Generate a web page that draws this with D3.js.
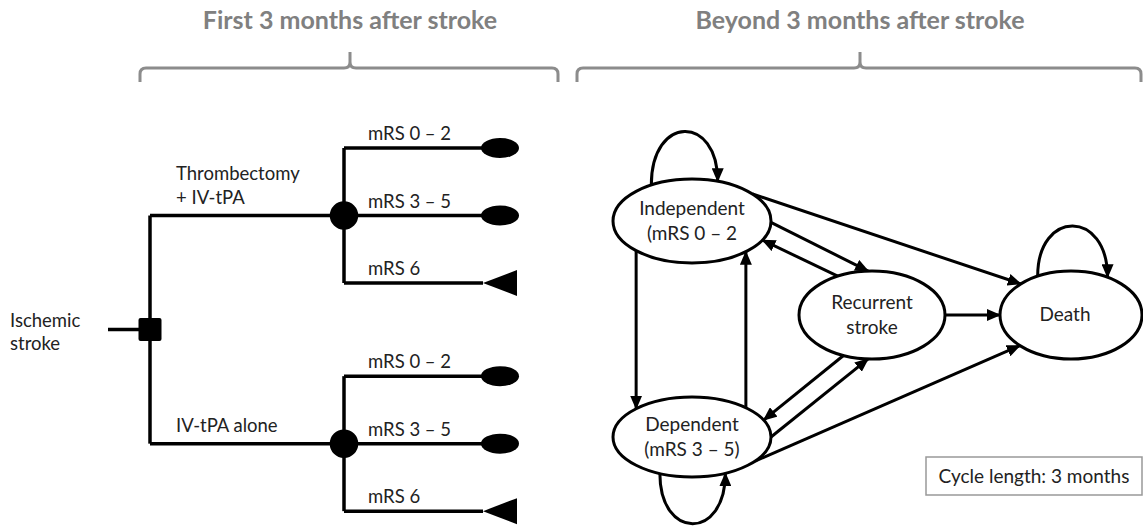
<!DOCTYPE html>
<html>
<head>
<meta charset="utf-8">
<script src="https://cdn.jsdelivr.net/npm/d3@7"></script>
<style>
body { margin: 0; background: #fff; }
text { font-family: Lato, "Open Sans", sans-serif; fill: #222; }
.head { font-size: 25px; font-weight: bold; fill: #808080; }
.lbl { font-size: 18.5px; }
.state { font-size: 19px; }
</style>
</head>
<body>
<svg id="chart" width="1143" height="529"></svg>
<script>
// ---- diagram content ----
var phases = ["First 3 months after stroke", "Beyond 3 months after stroke"];
var rootLabel = ["Ischemic", "stroke"];
var strategies = [["Thrombectomy", "+ IV-tPA"], ["IV-tPA alone"]];
var outcomes = ["mRS 0 – 2", "mRS 3 – 5", "mRS 6"];
var terminals = ["ellipse", "ellipse", "triangle"];
var states = ["Independent", "Dependent", "Recurrent", "Death"];
var stateLabels = [["Independent", "(mRS 0 – 2"], ["Dependent", "(mRS 3 – 5)"], ["Recurrent", "stroke"], ["Death"]];
var transitions = [
  ["Independent", "Death"], ["Independent", "Recurrent"], ["Recurrent", "Independent"],
  ["Recurrent", "Death"], ["Recurrent", "Dependent"], ["Dependent", "Recurrent"],
  ["Dependent", "Death"], ["Independent", "Dependent"], ["Dependent", "Independent"]
];
var selfLoops = ["Independent", "Dependent", "Death"];
var cycleNote = "Cycle length: 3 months";

// ---- layout ----
var svg = d3.select("#chart");
var treeX = d3.scaleOrdinal().domain(["stem", "decision", "chance", "end"]).range([108, 150, 344, 500]);
var treeY = d3.scaleLinear().domain([0, 1]).range([148, 215.5]);   // row units
var rowStart = [0, 3.38];
var phaseX = d3.scaleOrdinal().domain(phases).range([[140, 350, 558], [577, 860, 1141]]);

// ellipse geometry of the Markov states
var stateGeo = d3.scaleOrdinal().domain(states).range([
  {cx: 692, cy: 221, rx: 79, ry: 42},
  {cx: 692, cy: 437, rx: 79, ry: 40},
  {cx: 872, cy: 315, rx: 73, ry: 44},
  {cx: 1071, cy: 315, rx: 71, ry: 44}
]);
// where each transition leaves / meets the ellipse (parametric angle, degrees)
var anchors = [[-40, -135], [2, -93], [-118, 27], [0, 180], [113, -25], [0, 93], [37, 136], [135, -135], [-47, 47]];
var loopAnchors = [[-121, -71, -1], [114, 65, 1], [-118, -59, -1]];

function onEllipse(s, deg) {
  var g = stateGeo(s), t = deg * Math.PI / 180;
  return [g.cx + g.rx * Math.cos(t), g.cy + g.ry * Math.sin(t)];
}

// arrow head
svg.append("defs").append("marker")
  .attr("id", "arr").attr("viewBox", "0 0 14 12")
  .attr("refX", 13).attr("refY", 6)
  .attr("markerWidth", 14).attr("markerHeight", 12)
  .attr("markerUnits", "userSpaceOnUse").attr("orient", "auto")
  .append("path").attr("d", "M0,0L14,6L0,12Z").attr("fill", "#000");

// ---- phase headers with braces ----
var head = svg.selectAll("g.phase").data(phases).enter().append("g").attr("class", "phase");
head.append("text").attr("class", "head")
  .attr("x", d => phaseX(d)[1]).attr("y", 29)
  .attr("text-anchor", "middle").text(d => d);
head.append("path")
  .attr("fill", "none").attr("stroke", "#8c8c8c").attr("stroke-width", 3)
  .attr("d", function(d) {
    var p = phaseX(d), x0 = p[0], xm = p[1], x1 = p[2], yh = 68, r = 6;
    return "M" + x0 + ",82 L" + x0 + "," + (yh + r) + " Q" + x0 + "," + yh + " " + (x0 + r) + "," + yh +
      " L" + (xm - r) + "," + yh + " Q" + xm + "," + yh + " " + xm + "," + (yh - r) + " L" + xm + ",52" +
      " M" + xm + "," + (yh - r) + " Q" + xm + "," + yh + " " + (xm + r) + "," + yh +
      " L" + (x1 - r) + "," + yh + " Q" + x1 + "," + yh + " " + x1 + "," + (yh + r) + " L" + x1 + ",82";
  });

// ---- decision tree ----
var tree = svg.append("g").attr("stroke", "#000").attr("stroke-width", 3.5);
var stratY = strategies.map((s, i) => treeY(rowStart[i] + 1));
var rootY = d3.mean(stratY);

tree.append("line").attr("x1", treeX("stem")).attr("x2", treeX("decision")).attr("y1", rootY).attr("y2", rootY);
tree.append("line").attr("x1", treeX("decision")).attr("x2", treeX("decision"))
  .attr("y1", stratY[0]).attr("y2", stratY[1]);

strategies.forEach(function(s, i) {
  var y = stratY[i];
  var rows = outcomes.map((o, j) => treeY(rowStart[i] + j));
  tree.append("line").attr("x1", treeX("decision")).attr("x2", treeX("chance")).attr("y1", y).attr("y2", y);
  tree.append("line").attr("x1", treeX("chance")).attr("x2", treeX("chance"))
    .attr("y1", rows[0]).attr("y2", rows[rows.length - 1]);
  tree.selectAll(null).data(rows).enter().append("line")
    .attr("x1", treeX("chance")).attr("x2", treeX("end") - 17).attr("y1", d => d).attr("y2", d => d);
  tree.append("circle").attr("cx", treeX("chance")).attr("cy", y).attr("r", 12.5).attr("fill", "#000");

  rows.forEach(function(ry, j) {
    if (terminals[j] === "ellipse") {
      tree.append("ellipse").attr("cx", treeX("end")).attr("cy", ry).attr("rx", 19).attr("ry", 10)
        .attr("fill", "#000").attr("stroke", "none");
    } else {
      var x = treeX("end");
      tree.append("path").attr("fill", "#000").attr("stroke", "none")
        .attr("d", "M" + (x - 17) + "," + ry + "L" + (x + 17) + "," + (ry - 13) + "L" + (x + 17) + "," + (ry + 13) + "Z");
    }
    svg.append("text").attr("class", "lbl").attr("x", 368).attr("y", ry - 8).text(outcomes[j]);
  });

  svg.selectAll(null).data(s).enter().append("text").attr("class", "lbl")
    .attr("x", 176).attr("y", (d, k) => y - 12 - (s.length - 1 - k) * 24).text(d => d);
});

tree.append("rect").attr("x", treeX("decision") - 11.5).attr("y", rootY - 11.5)
  .attr("width", 23).attr("height", 23).attr("rx", 2).attr("fill", "#000").attr("stroke", "none");
svg.selectAll(null).data(rootLabel).enter().append("text").attr("class", "lbl")
  .attr("x", 10).attr("y", (d, i) => rootY - 3 + i * 23).text(d => d);

// ---- Markov model ----
var mk = svg.append("g");

mk.selectAll("line.tr").data(transitions).enter().append("line").attr("class", "tr")
  .each(function(d, i) {
    var a = onEllipse(d[0], anchors[i][0]), b = onEllipse(d[1], anchors[i][1]);
    d3.select(this).attr("x1", a[0]).attr("y1", a[1]).attr("x2", b[0]).attr("y2", b[1]);
  })
  .attr("stroke", "#000").attr("stroke-width", 3).attr("marker-end", "url(#arr)");

mk.selectAll("path.loop").data(selfLoops).enter().append("path").attr("class", "loop")
  .attr("d", function(d, i) {
    var la = loopAnchors[i], a = onEllipse(d, la[0]), b = onEllipse(d, la[1]);
    var cy = (la[2] < 0 ? Math.min(a[1], b[1]) : Math.max(a[1], b[1])) + la[2] * 67;
    return "M" + a[0] + "," + a[1] + " C" + a[0] + "," + cy + " " + b[0] + "," + cy + " " + b[0] + "," + b[1];
  })
  .attr("fill", "none").attr("stroke", "#000").attr("stroke-width", 3).attr("marker-end", "url(#arr)");

var node = mk.selectAll("g.state").data(states).enter().append("g").attr("class", "state");
node.append("ellipse")
  .attr("cx", d => stateGeo(d).cx).attr("cy", d => stateGeo(d).cy)
  .attr("rx", d => stateGeo(d).rx).attr("ry", d => stateGeo(d).ry)
  .attr("fill", "#fff").attr("stroke", "#000").attr("stroke-width", 3);
node.each(function(d, i) {
  var g = stateGeo(d), lines = stateLabels[i];
  d3.select(this).selectAll("text").data(lines).enter().append("text")
    .attr("class", "state").attr("text-anchor", "middle")
    .attr("x", g.cx - (lines.length > 1 ? 0 : 6))
    .attr("y", (t, k) => g.cy + 6 - (lines.length - 1) * 12.5 + k * 25)
    .text(t => t);
});

// cycle length note
svg.append("rect").attr("x", 926).attr("y", 457).attr("width", 216).attr("height", 38)
  .attr("fill", "#fff").attr("stroke", "#999").attr("stroke-width", 1.5);
svg.append("text").attr("class", "lbl").attr("x", 1034).attr("y", 483)
  .attr("text-anchor", "middle").style("font-size", "19px").text(cycleNote);
</script>
</body>
</html>
